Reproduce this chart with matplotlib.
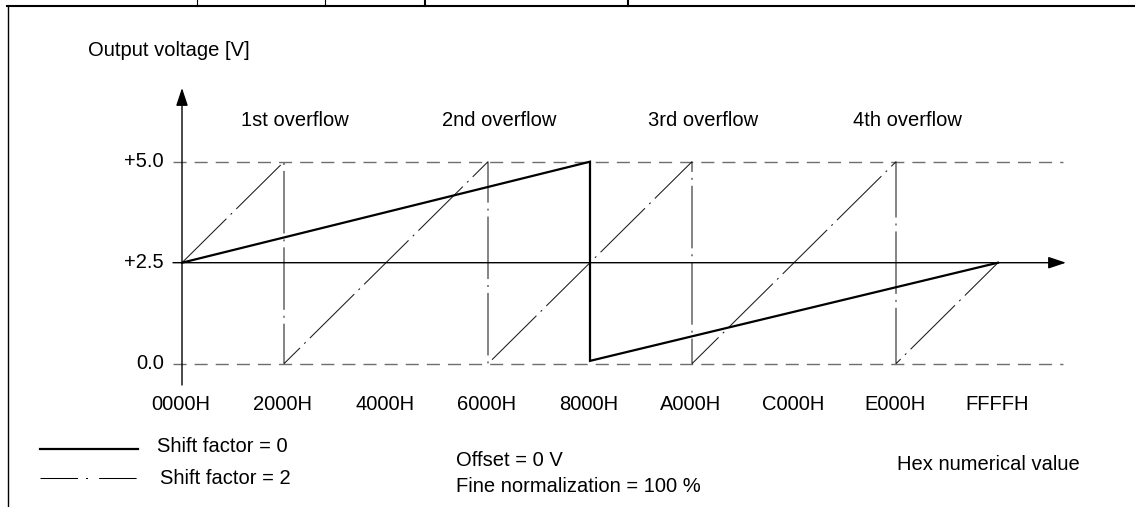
import matplotlib
matplotlib.use('Agg')
import matplotlib.pyplot as plt
from matplotlib.transforms import Affine2D
from matplotlib.lines import Line2D

# D/A converter output for the whole 16 bit input range,
# shift factor 0 against shift factor 2

plt.rcParams['font.family'] = ['Liberation Sans', 'DejaVu Sans']
plt.rcParams['lines.scale_dashes'] = False

hex_ticks = [0x0000, 0x2000, 0x4000, 0x6000, 0x8000, 0xA000, 0xC000, 0xE000, 0xFFFF]
hex_labels = ['0000H', '2000H', '4000H', '6000H', '8000H', 'A000H', 'C000H', 'E000H', 'FFFFH']
volt_levels = [0.0, 2.5, 5.0]
volt_labels = ['0.0', '+2.5', '+5.0']

# shift factor 0: single overflow at 8000H
shift0_x = [0x0000, 0x8000, 0x8000, 0xFFFF]
shift0_y = [2.5, 5.0, 0.07, 2.5]

# shift factor 2: overflow every 4000H
shift2_x = [0x0000, 0x2000, 0x2000, 0x6000, 0x6000, 0xA000, 0xA000, 0xE000, 0xE000, 0xFFFF]
shift2_y = [2.5, 5.0, 0.0, 5.0, 0.0, 5.0, 0.0, 5.0, 0.0, 2.5]

overflow_x = [0x2000, 0x6000, 0xA000, 0xE000]
overflow_labels = ['1st overflow', '2nd overflow', '3rd overflow', '4th overflow']

W, H = 1135, 507
FS = 14.5

# pixel <-> data mapping of the drawing area
x0_px, step_px = 182.0, 102.0      # 0000H and width of 2000H
y0_px, volt_px = 363.7, 40.4       # 0.0 V and pixels per volt

def hx(px):
    return (px - x0_px) / step_px * 0x2000

def vy(py):
    return (y0_px - py) / volt_px

fig = plt.figure(figsize=(W / 100, H / 100), dpi=100)
ax = fig.add_axes([0, 0, 1, 1])
ax.set_xlim(hx(0), hx(W))
ax.set_ylim(vy(H), vy(0))
ax.axis('off')

# figure pixels, origin top left
pix = Affine2D().scale(1 / W, -1 / H).translate(0, 1) + fig.transFigure

# table frame
fig.add_artist(Line2D([7, W], [6, 6], transform=pix, color='black', lw=1.5))
fig.add_artist(Line2D([7.5, 7.5], [6, H], transform=pix, color='black', lw=1.0))
for sx, lw in zip([197, 325, 425, 628], [0.8, 0.8, 1.5, 1.5]):
    fig.add_artist(Line2D([sx, sx], [0, 6], transform=pix, color='black', lw=lw))

# limits 0.0 V and +5.0 V
for v in [volt_levels[0], volt_levels[2]]:
    ax.plot([hx(173), hx(1063)], [v, v], color='#6e6e6e', lw=1.0, dashes=(9.4, 5.8))

# axes with arrows
arrow = dict(arrowstyle='-|>,head_length=0.9,head_width=0.3', mutation_scale=12,
             lw=1.0, color='black', shrinkA=0, shrinkB=0)
ax.annotate('', xy=(hx(1066), volt_levels[1]), xytext=(hx(173), volt_levels[1]), arrowprops=arrow)
ax.annotate('', xy=(0, vy(88)), xytext=(0, vy(385)), arrowprops=arrow)

ax.plot(shift2_x, shift2_y, color='#1a1a1a', lw=0.75, dashes=(45, 4.3, 1.4, 4.3))
ax.plot(shift0_x, shift0_y, color='black', lw=1.6, solid_joinstyle='miter')

for v, lab in zip(volt_levels, volt_labels):
    ax.text(hx(164), v, lab, ha='right', va='center', fontsize=FS)
for x, lab in zip(hex_ticks, hex_labels):
    ax.text(x - hx(x0_px + 1), vy(405), lab, ha='center', va='center', fontsize=FS)
for x, lab in zip(overflow_x, overflow_labels):
    ax.text(x + hx(x0_px + 11), vy(121), lab, ha='center', va='center', fontsize=FS)

ax.text(hx(88), vy(50), 'Output voltage [V]', ha='left', va='center', fontsize=FS)

# legend
fig.add_artist(Line2D([40, 138], [449, 449], transform=pix, color='black', lw=1.6))
fig.add_artist(Line2D([40, 138], [478, 478], transform=pix, color='black', lw=0.75,
                      dashes=(27, 5.8, 1.4, 8)))
fig.text(157 / W, 1 - 447 / H, 'Shift factor = 0', ha='left', va='center', fontsize=FS)
fig.text(160 / W, 1 - 478 / H, 'Shift factor = 2', ha='left', va='center', fontsize=FS)

fig.text(456 / W, 1 - 460 / H, 'Offset = 0 V', ha='left', va='center', fontsize=FS)
fig.text(456 / W, 1 - 487 / H, 'Fine normalization = 100 %', ha='left', va='center', fontsize=FS)
fig.text(897 / W, 1 - 464 / H, 'Hex numerical value', ha='left', va='center', fontsize=FS)

fig.savefig('out.png', dpi=100)
